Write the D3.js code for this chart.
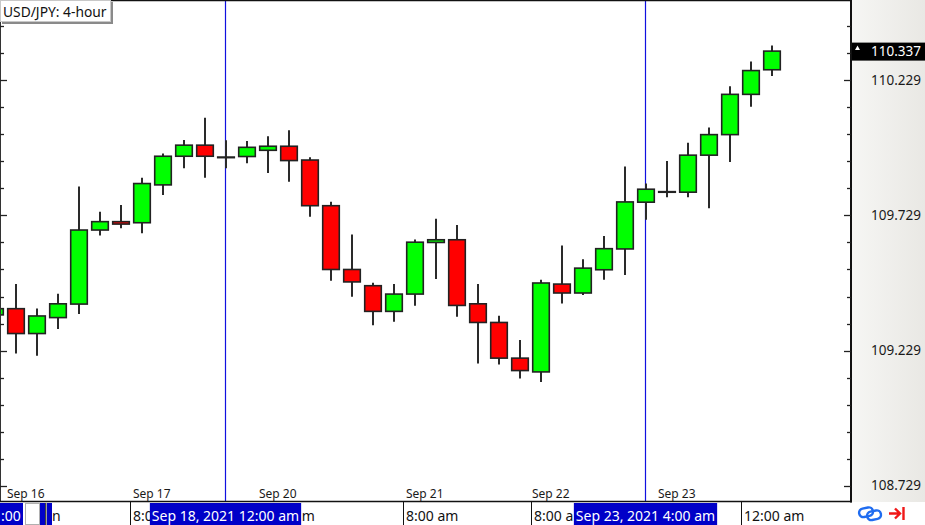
<!DOCTYPE html>
<html><head><meta charset="utf-8">
<script src="https://cdn.jsdelivr.net/npm/d3@7"></script>
<style>html,body{margin:0;padding:0;background:#fff;}svg{display:block;font-family:"Noto Sans",sans-serif;}</style>
</head><body><svg id="c" width="925" height="525"></svg>
<script>
// ---- data ----
const title = "USD/JPY: 4-hour";
const openP  = [109.361,109.384,109.292,109.351,109.401,109.675,109.706,109.702,109.842,109.948,109.989,109.945,109.947,109.970,109.985,109.934,109.765,109.529,109.469,109.374,109.438,109.629,109.639,109.402,109.333,109.201,109.150,109.475,109.442,109.528,109.605,109.778,109.817,109.815,109.952,110.028,110.177,110.268];
const highP  = [109.395,109.475,109.385,109.439,109.836,109.743,109.768,109.868,109.958,110.008,110.090,110.007,110.004,110.022,110.044,109.944,109.780,109.658,109.480,109.475,109.640,109.717,109.694,109.475,109.358,109.268,109.491,109.618,109.567,109.653,109.910,109.847,109.930,109.998,110.054,110.207,110.299,110.358];
const lowP   = [109.350,109.218,109.210,109.309,109.364,109.655,109.682,109.663,109.805,109.904,109.868,109.904,109.922,109.886,109.854,109.724,109.487,109.428,109.323,109.336,109.395,109.494,109.354,109.181,109.177,109.126,109.113,109.403,109.435,109.491,109.509,109.713,109.796,109.796,109.756,109.927,110.131,110.245];
const closeP = [109.384,109.292,109.357,109.402,109.675,109.706,109.697,109.847,109.948,109.989,109.948,109.945,109.981,109.985,109.932,109.765,109.529,109.483,109.374,109.438,109.630,109.639,109.396,109.333,109.201,109.155,109.479,109.442,109.534,109.606,109.779,109.826,109.817,109.952,110.028,110.177,110.265,110.337];
const dayLabels = ["Sep 16","Sep 17","Sep 20","Sep 21","Sep 22","Sep 23"];
const dayStartIdx = [1,7,13,20,26,32];
const majorTicks = [108.729,109.229,109.729,110.229];
const minorTicks = d3.range(0,18).map(k => +(108.729 + k*0.1).toFixed(3));
const lastPrice = 110.337;
const markerIdx = [11,31];
const markerLabels = ["Sep 18, 2021 12:00 am","Sep 23, 2021 4:00 am"];
// bottom time strip: separator positions (candle index) and the visible part of each label
const stripIdx = [6.45, 19.45, 25.5, 35.5];
const stripText = ["8:0","8:00 am","8:00 a","12:00 am"];

// ---- layout ----
const W = 925, H = 525, plotR = 851, plotB = 502;
const svg = d3.select("#c");
const candles = openP.map((o,i)=>({i,o,h:highP[i],l:lowP[i],c:closeP[i]}));
const x = d3.scaleLinear().domain([0, candles.length-1]).range([-5, 772]);
const y = d3.scaleLinear().domain([108.729, 110.229]).range([485.7, 80.3]);
const step = x(1)-x(0);
const bodyW = step*0.79;

const defs = svg.append("defs");
const g1 = defs.append("linearGradient").attr("id","pg").attr("x1","0").attr("x2","1").attr("y1","0").attr("y2","0");
g1.append("stop").attr("offset","0").attr("stop-color","#f6f6f4");
g1.append("stop").attr("offset","1").attr("stop-color","#e9e8e4");
defs.append("clipPath").attr("id","pc").append("rect").attr("x",0).attr("y",0).attr("width",plotR).attr("height",plotB);

svg.append("rect").attr("width",W).attr("height",H).attr("fill","#fff");
svg.append("rect").attr("x",plotR).attr("y",0).attr("width",W-plotR).attr("height",plotB).attr("fill","url(#pg)");

const plot = svg.append("g").attr("clip-path","url(#pc)");
// marker lines
plot.selectAll("line.mk").data(markerIdx).join("line")
  .attr("x1",d=>Math.round(x(d))-0.5).attr("x2",d=>Math.round(x(d))-0.5)
  .attr("y1",0).attr("y2",plotB).attr("stroke","#1010e0").attr("stroke-width",1.2);
// wicks
plot.selectAll("line.wk").data(candles).join("line")
  .attr("x1",d=>x(d.i)).attr("x2",d=>x(d.i))
  .attr("y1",d=>y(d.h)).attr("y2",d=>y(d.l))
  .attr("stroke","#2a2a2a").attr("stroke-width",2);
// bodies
plot.selectAll("rect.bd").data(candles).join("rect")
  .attr("x",d=>x(d.i)-bodyW/2).attr("width",bodyW)
  .attr("y",d=>y(Math.max(d.o,d.c)))
  .attr("height",d=>Math.max(0.6, Math.abs(y(d.o)-y(d.c))))
  .attr("fill",d=>d.c>d.o?"#00ff00":(d.c<d.o?"#ff0000":"#222"))
  .attr("stroke","#222").attr("stroke-width",1.6);

// frame
svg.append("line").attr("x1",0).attr("x2",plotR).attr("y1",0.5).attr("y2",0.5).attr("stroke","#111").attr("stroke-width",1.5);
svg.append("line").attr("x1",0.5).attr("x2",0.5).attr("y1",0).attr("y2",plotB).attr("stroke","#333").attr("stroke-width",1);
svg.append("line").attr("x1",plotR).attr("x2",plotR).attr("y1",0).attr("y2",plotB+0.5).attr("stroke","#111").attr("stroke-width",2);
svg.append("line").attr("x1",0).attr("x2",plotR+1).attr("y1",plotB-0.5).attr("y2",plotB-0.5).attr("stroke","#111").attr("stroke-width",1.5);

// y ticks (right and left)
const isMajor = v => majorTicks.some(m=>Math.abs(m-v)<1e-6);
const tg = svg.append("g");
minorTicks.forEach(v=>{
  const yy = Math.round(y(v))+0.5;
  const L = isMajor(v)?7:4;
  tg.append("line").attr("x1",plotR-L).attr("x2",plotR).attr("y1",yy).attr("y2",yy).attr("stroke","#222").attr("stroke-width",1.3);
  tg.append("line").attr("x1",0).attr("x2",L).attr("y1",yy).attr("y2",yy).attr("stroke","#222").attr("stroke-width",1.3);
});
svg.selectAll("text.yl").data(majorTicks).join("text")
  .attr("x",871).attr("y",d=>y(d)).attr("dy","0.35em")
  .attr("font-size",13.5).attr("fill","#1a1a1a").text(d=>d.toFixed(3));

// last price box
const ly = y(lastPrice);
svg.append("rect").attr("x",plotR+1).attr("y",ly-8.5).attr("width",W-plotR-1).attr("height",18).attr("fill","#000");
svg.append("path").attr("d",`M${855},${ly-1}L${857.5},${ly-5.5}L${860},${ly-1}Z`).attr("fill","#fff");
svg.append("text").attr("x",871).attr("y",ly).attr("dy","0.35em").attr("font-size",13.5).attr("fill","#fff").text(lastPrice.toFixed(3));

// day labels
svg.selectAll("text.dl").data(dayStartIdx).join("text")
  .attr("x",d=>x(d)-step/2+1.5).attr("y",498).attr("font-size",12).attr("fill","#1a1a1a")
  .text((d,k)=>dayLabels[k]);

// bottom strip
const strip = svg.append("g");
stripIdx.forEach((d,k)=>{
  const sx = Math.round(x(d))+0.5;
  strip.append("line").attr("x1",sx).attr("x2",sx).attr("y1",plotB).attr("y2",H).attr("stroke","#111").attr("stroke-width",1);
  strip.append("text").attr("x",sx+2.5).attr("y",521).attr("font-size",14).attr("fill","#111").text(stripText[k]);
});
// left partial boxes
strip.append("rect").attr("x",0).attr("y",503).attr("width",23).attr("height",22).attr("fill","#0000c8");
strip.append("text").attr("x",1).attr("y",521).attr("font-size",14).attr("fill","#fff").text(":00");
strip.append("rect").attr("x",25.5).attr("y",503.5).attr("width",14).attr("height",21).attr("fill","#fff").attr("stroke","#b0b0b0");
strip.append("rect").attr("x",40).attr("y",503).attr("width",5).attr("height",22).attr("fill","#0000c8");
strip.append("rect").attr("x",47).attr("y",503).attr("width",5).attr("height",22).attr("fill","#0000c8");
strip.append("line").attr("x1",45.8).attr("x2",45.8).attr("y1",503).attr("y2",525).attr("stroke","#111").attr("stroke-width",1.2);
strip.append("text").attr("x",52).attr("y",521).attr("font-size",14).attr("fill","#111").text("n");
// marker date boxes
markerIdx.forEach((d,k)=>{
  const cx = Math.round(x(d))-0.5;
  const t = strip.append("text").attr("x",cx).attr("y",521).attr("text-anchor","middle").attr("font-size",14).attr("fill","#fff").text(markerLabels[k]);
  const w = t.node().getComputedTextLength()+4;
  strip.insert("rect", () => t.node()).attr("x",cx-w/2).attr("y",503).attr("width",w).attr("height",22).attr("fill","#0000c8");
  if (k===0) strip.append("text").attr("x",cx+w/2+0.5).attr("y",521).attr("font-size",14).attr("fill","#111").text("m");
});

// icons
const ic = svg.append("g");
ic.append("rect").attr("x",859).attr("y",508).attr("width",14).attr("height",8.5).attr("rx",4.2).attr("fill","none").attr("stroke","#1f6cf0").attr("stroke-width",2.4).attr("transform","rotate(-12 866 512)");
ic.append("rect").attr("x",867).attr("y",511).attr("width",14).attr("height",8.5).attr("rx",4.2).attr("fill","none").attr("stroke","#1f6cf0").attr("stroke-width",2.4).attr("transform","rotate(-12 874 515)");
ic.append("path").attr("d","M889,513.5H900M895,508.5L900,513.5L895,518.5M903.5,507V520").attr("fill","none").attr("stroke","#f01818").attr("stroke-width",2.4);

// title box
const tb = svg.append("g");
tb.append("rect").attr("x",2).attr("y",2).attr("width",111).attr("height",22).attr("fill","#8a8a8a");
tb.append("rect").attr("x",0.5).attr("y",0.5).attr("width",110).attr("height",21).attr("fill","#fff").attr("stroke","#c8c8c8");
tb.append("text").attr("x",3).attr("y",16.5).attr("font-size",13.8).attr("fill","#111").text(title);
</script></body></html>
